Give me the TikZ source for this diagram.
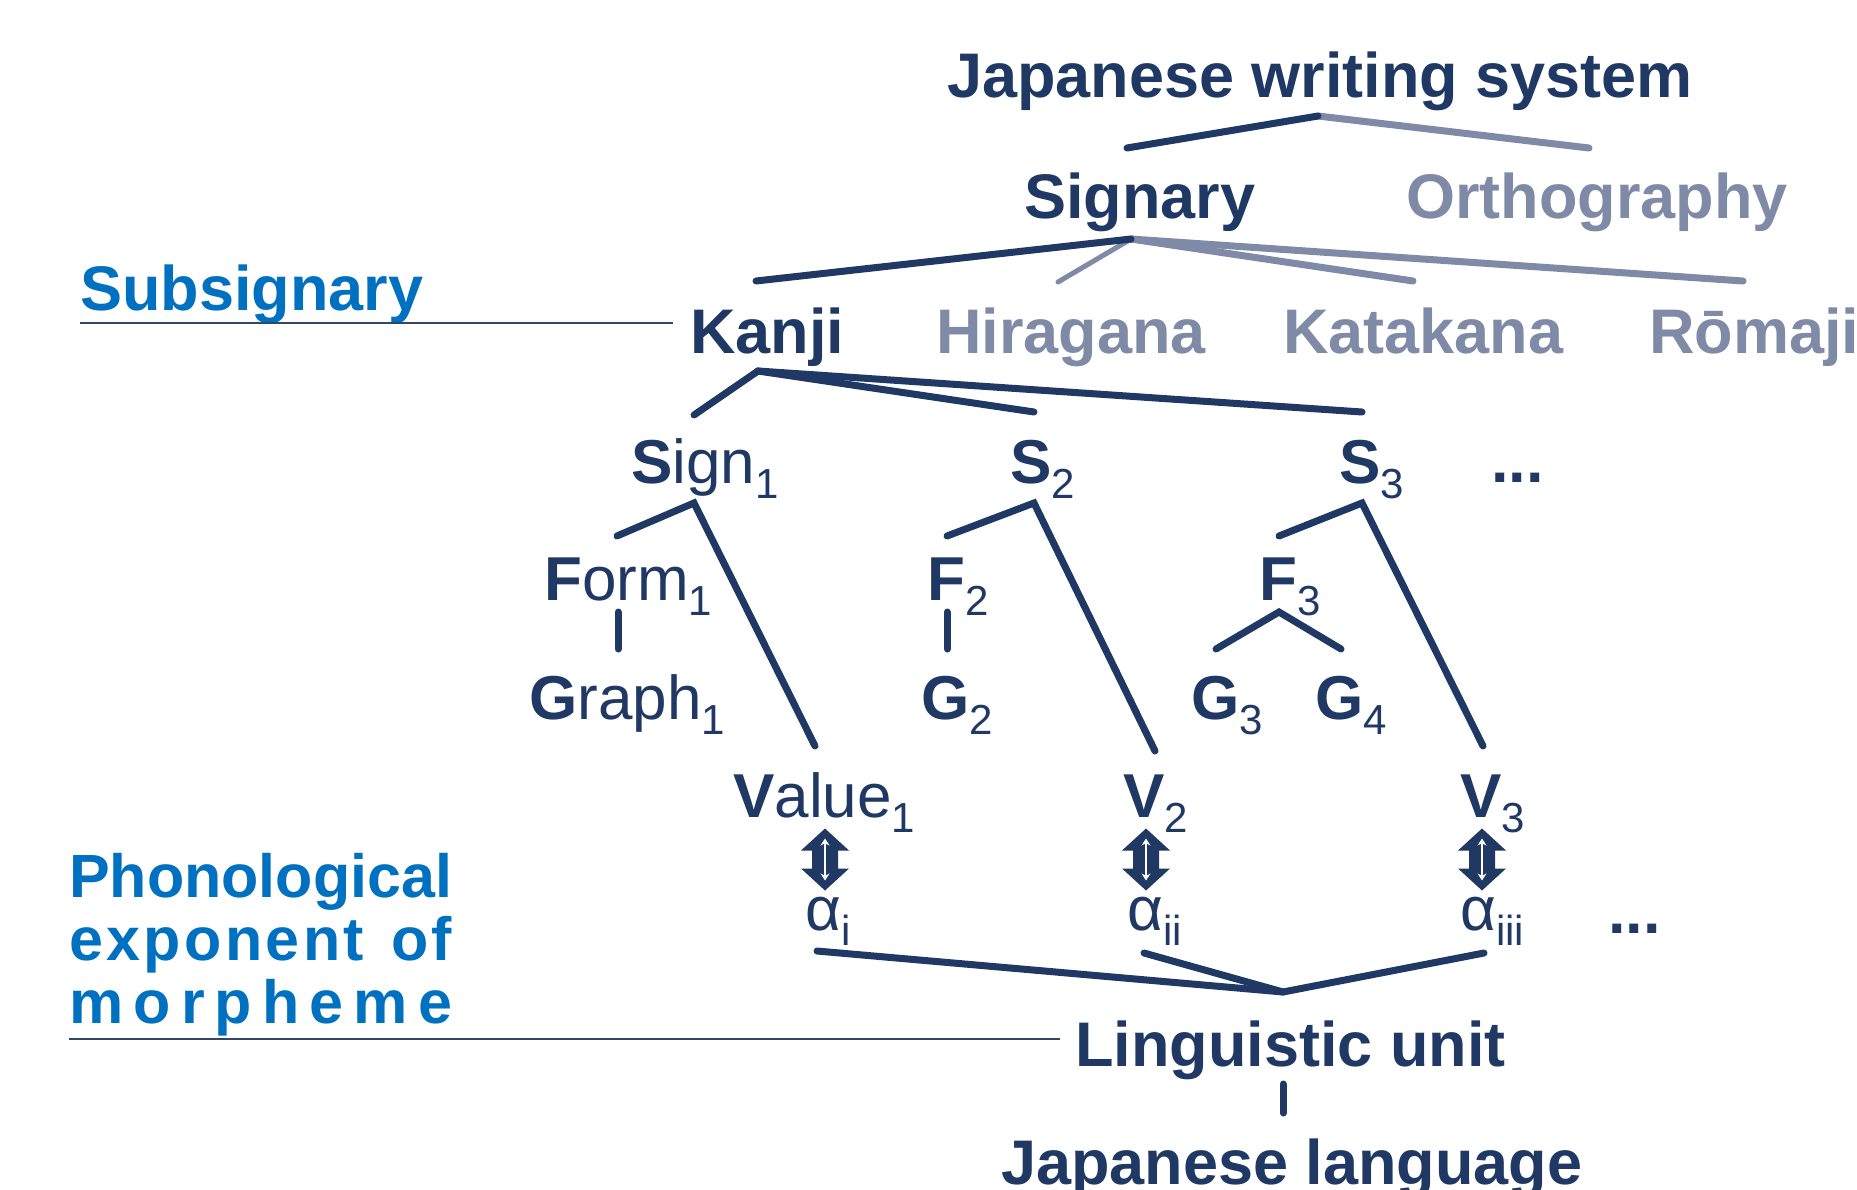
\documentclass[tikz,border=0pt]{standalone}
\usepackage{fontspec}
\setmainfont{Liberation Sans}
\usetikzlibrary{arrows.meta}
\definecolor{navy}{HTML}{203864}
\definecolor{grayblue}{HTML}{7F8AA6}
\definecolor{lblue}{HTML}{0070C0}
\newcommand\sbs[1]{\raisebox{-15pt}{\fontsize{42}{42}\selectfont\mdseries #1}}
\tikzset{
  lbl/.style={inner sep=0pt, anchor=base west, text=navy},
  big/.style={lbl, font=\fontsize{63}{70}\selectfont\bfseries},
  gbig/.style={big, text=grayblue},
  sgn/.style={lbl, font=\fontsize{62}{70}\selectfont},
  blu/.style={lbl, text=lblue, font=\fontsize{63}{70}\selectfont\bfseries},
  blu2/.style={lbl, text=lblue, font=\fontsize{61}{70}\selectfont\bfseries},
  edge/.style={draw=navy, line width=7pt, line cap=round},
  gedge/.style={draw=grayblue, line width=7pt, line cap=round},
  uline/.style={draw=navy!80!gray, line width=1.5pt},
  dbl/.pic={
    \fill[navy] (0,-31) -- (24,-9) -- (13,-9) -- (13,9) -- (24,9) -- (0,31)
      -- (-24,9) -- (-13,9) -- (-13,-9) -- (-24,-9) -- cycle;
    \draw[white, line width=2.6pt, {Stealth[length=7pt,width=9pt]}-{Stealth[length=7pt,width=9pt]}] (0,-21) -- (0,21);
  }
}
\begin{document}
\begin{tikzpicture}[x=1pt,y=-1pt]
\useasboundingbox[fill=white] (0,0) rectangle (1857,1189);

% ---- text nodes ----
\node[big] (jws) at (947,97) {Japanese writing system};
\node[big] (sig) at (1024,218) {Signary};
\node[gbig] (orth) at (1406,218) {Orthography};
\node[blu] (subs) at (80,310) {Subsignary};
\node[big] (kanji) at (690,353) {Kanji};
\node[gbig] (hira) at (936,353) {Hiragana};
\node[gbig] (kata) at (1283,353) {Katakana};
\node[gbig] (roma) at (1649,353) {Rōmaji};

\node[sgn] (sign1) at (631,483) {{\bfseries S}ign\sbs{1}};
\node[sgn] (s2) at (1010,483) {{\bfseries S}\sbs{2}};
\node[sgn] (s3) at (1339,483) {{\bfseries S}\sbs{3}};
\node[big] (dots1) at (1491,482) {...};

\node[sgn] (form1) at (544,600) {{\bfseries F}orm\sbs{1}};
\node[sgn] (f2) at (927,600) {{\bfseries F}\sbs{2}};
\node[sgn] (f3) at (1259,600) {{\bfseries F}\sbs{3}};

\node[sgn] (graph1) at (529,719) {{\bfseries G}raph\sbs{1}};
\node[sgn] (g2) at (921,719) {{\bfseries G}\sbs{2}};
\node[sgn] (g3) at (1191,719) {{\bfseries G}\sbs{3}};
\node[sgn] (g4) at (1315,719) {{\bfseries G}\sbs{4}};

\node[sgn] (value1) at (733,817) {{\bfseries V}alue\sbs{1}};
\node[sgn] (v2) at (1123,817) {{\bfseries V}\sbs{2}};
\node[sgn] (v3) at (1460,817) {{\bfseries V}\sbs{3}};

\node[sgn] (al1) at (805,930) {α\sbs{i}};
\node[sgn] (al2) at (1127,930) {α\sbs{ii}};
\node[sgn] (al3) at (1460,930) {α\sbs{iii}};
\node[big] (dots2) at (1608,933) {...};

\node[blu2] (ph1) at (69,897) {Phonological};
\node[blu2] (ph2) at (69,960) {\makebox[383pt][s]{e\hfil x\hfil p\hfil o\hfil n\hfil e\hfil n\hfil t\hskip 17pt plus 3fil o\hfil f}};
\node[blu2] (ph3) at (69,1023) {\makebox[383pt][s]{m\hfill o\hfill r\hfill p\hfill h\hfill e\hfill m\hfill e}};

\node[big] (lu) at (1075,1066) {Linguistic unit};
\node[big] (jl) at (1001,1184) {Japanese language};

% ---- underlines ----
\coordinate (subsL) at (80,323);
\coordinate (subsR) at (673,323);
\draw[uline] (subsL) -- (subsR);
\coordinate (phL) at (69,1039);
\coordinate (phR) at (1060,1039);
\draw[uline] (phL) -- (phR);

% ---- connector end points ----
\coordinate (jwsA) at (1318,116);
\coordinate (jwsL) at (1127,148);
\coordinate (jwsR) at (1589,148);
\coordinate (sigA) at (1131,239);
\coordinate (sigK) at (756,281);
\coordinate (sigH) at (1058,282);
\coordinate (sigKa) at (1413,281);
\coordinate (sigR) at (1743,281);
\coordinate (kanA) at (758,371);
\coordinate (kS1) at (694,415);
\coordinate (kS2) at (1034,412);
\coordinate (kS3) at (1362,412);
\coordinate (s1A) at (694,503);
\coordinate (s1F) at (617,536);
\coordinate (s1V) at (815,746);
\coordinate (s2A) at (1034,503);
\coordinate (s2F) at (947,536);
\coordinate (s2V) at (1155,751);
\coordinate (s3A) at (1362,503);
\coordinate (s3F) at (1279,536);
\coordinate (s3V) at (1483,746);
\coordinate (f1B) at (618,612);
\coordinate (g1T) at (618,649);
\coordinate (f2B) at (947,612);
\coordinate (g2T) at (947,649);
\coordinate (f3A) at (1279,612);
\coordinate (g3T) at (1216,649);
\coordinate (g4T) at (1341,649);
\coordinate (luA) at (1283,992);
\coordinate (a1E) at (817,951);
\coordinate (a2E) at (1144,953);
\coordinate (a3E) at (1484,953);
\coordinate (luB) at (1283,1084);
\coordinate (jlT) at (1283,1113);

% ---- connectors ----
\draw[gedge] (jwsA) -- (jwsR);
\draw[edge] (jwsL) -- (jwsA);

\draw[gedge] (sigA) -- (sigR);
\draw[gedge] (sigA) -- (sigKa);
\draw[gedge, line width=5pt] (sigA) -- (sigH);
\draw[edge] (sigA) -- (sigK);

\draw[edge] (kS1) -- (kanA) -- (kS2);
\draw[edge] (kanA) -- (kS3);

\draw[edge] (s1F) -- (s1A) -- (s1V);
\draw[edge] (s2F) -- (s2A) -- (s2V);
\draw[edge] (s3F) -- (s3A) -- (s3V);

\draw[edge] (f1B) -- (g1T);
\draw[edge] (f2B) -- (g2T);
\draw[edge] (g3T) -- (f3A) -- (g4T);

\draw[edge] (a1E) -- (luA) -- (a3E);
\draw[edge] (a2E) -- (luA);
\draw[edge] (luB) -- (jlT);

% ---- double arrows ----
\pic (arr1) at (825,859.5) {dbl};
\pic (arr2) at (1146,859.5) {dbl};
\pic (arr3) at (1482,859.5) {dbl};
\end{tikzpicture}
\end{document}
